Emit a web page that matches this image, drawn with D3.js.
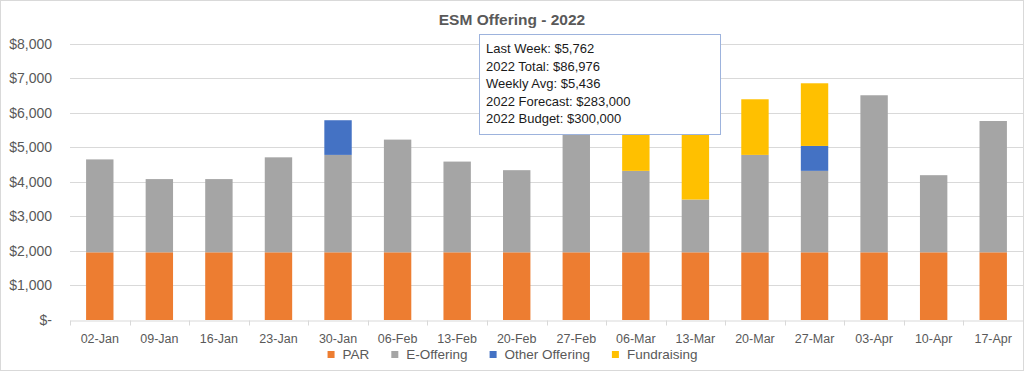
<!DOCTYPE html>
<html lang="en">
<head>
<meta charset="UTF-8">
<title>ESM Offering - 2022</title>
<script src="https://d3js.org/d3.v7.min.js"></script>
<style>
    body { margin: 0; background: #fff; }
    text { font-family: "Liberation Sans", Arial, sans-serif; }
</style>
</head>
<body>
<div id="chart"></div>
<script>
// weekly values
var weeks = ["02-Jan", "09-Jan", "16-Jan", "23-Jan", "30-Jan", "06-Feb", "13-Feb", "20-Feb",
             "27-Feb", "06-Mar", "13-Mar", "20-Mar", "27-Mar", "03-Apr", "10-Apr", "17-Apr"];
var par         = [1960, 1960, 1960, 1960, 1960, 1960, 1960, 1960, 1960, 1960, 1960, 1960, 1960, 1960, 1960, 1960];
var eOffering   = [2690, 2120, 2120, 2750, 2820, 3263, 2627, 2378, 4340, 2358, 1528, 2820, 2358, 4547, 2233, 3802];
var otherOffer  = [0, 0, 0, 0, 1004, 0, 0, 0, 0, 0, 0, 0, 722, 0, 0, 0];
var fundraising = [0, 0, 0, 0, 0, 0, 0, 0, 0, 2282, 3425, 1611, 1814, 0, 0, 0];
var seriesNames = ["PAR", "E-Offering", "Other Offering", "Fundraising"];
var seriesColors = ["#ED7D31", "#A5A5A5", "#4472C4", "#FFC000"];
var yTicks = [0, 1000, 2000, 3000, 4000, 5000, 6000, 7000, 8000];
var summaryLines = ["Last Week: $5,762", "2022 Total: $86,976", "Weekly Avg: $5,436",
                    "2022 Forecast: $283,000", "2022 Budget: $300,000"];

var width = 1024, height = 372;
var plotLeft = 70, plotRight = 1023, plotTop = 43.7, plotBottom = 320;

var svg = d3.select("#chart").append("svg")
    .attr("width", width)
    .attr("height", height);

// outer chart frame
svg.append("rect")
    .attr("x", 0.5).attr("y", 0.5)
    .attr("width", width - 1).attr("height", height - 2)
    .attr("fill", "#fff").attr("stroke", "#d9d9d9");

var rows = weeks.map(function(w, i) {
    return { week: w, "PAR": par[i], "E-Offering": eOffering[i],
             "Other Offering": otherOffer[i], "Fundraising": fundraising[i] };
});

var x = d3.scaleBand().domain(weeks).range([plotLeft, plotRight]).paddingInner(0.54).paddingOuter(0.27);
var y = d3.scaleLinear().domain([0, 8000]).range([plotBottom, plotTop]);
var color = d3.scaleOrdinal().domain(seriesNames).range(seriesColors);

// gridlines
svg.append("g")
    .selectAll("line")
    .data(yTicks.slice(1))
    .enter().append("line")
    .attr("x1", plotLeft).attr("x2", plotRight)
    .attr("y1", function(d) { return Math.round(y(d)) + 0.5; })
    .attr("y2", function(d) { return Math.round(y(d)) + 0.5; })
    .attr("stroke", "#d9d9d9");

// y axis labels (accounting style)
var fmt = d3.format(",");
svg.append("g")
    .selectAll("text")
    .data(yTicks)
    .enter().append("text")
    .attr("x", 52)
    .attr("y", function(d) { return y(d); })
    .attr("dy", "0.35em")
    .attr("text-anchor", "end")
    .attr("font-size", 14)
    .attr("fill", "#595959")
    .text(function(d) { return d === 0 ? "$-" : "$" + fmt(d); });

// stacked bars
var stack = d3.stack().keys(seriesNames);
svg.append("g")
    .selectAll("g")
    .data(stack(rows))
    .enter().append("g")
    .attr("fill", function(d) { return color(d.key); })
    .selectAll("rect")
    .data(function(d) { return d; })
    .enter().append("rect")
    .attr("x", function(d) { return x(d.data.week); })
    .attr("y", function(d) { return y(d[1]); })
    .attr("width", x.bandwidth())
    .attr("height", function(d) { return y(d[0]) - y(d[1]); });

// category axis
var xAxis = svg.append("g")
    .attr("transform", "translate(0," + (Math.round(plotBottom) + 0.5) + ")")
    .call(d3.axisBottom(x).tickSize(0).tickPadding(14));
xAxis.select(".domain").attr("stroke", "#d9d9d9");
xAxis.selectAll("text")
    .attr("font-family", "Liberation Sans, Arial, sans-serif")
    .attr("font-size", 12.5)
    .attr("fill", "#595959");
// boundary tick marks between categories
xAxis.selectAll(".sep")
    .data(weeks.concat(["end"]))
    .enter().append("line")
    .attr("class", "sep")
    .attr("x1", function(d, i) { return Math.round(plotLeft + i * x.step()) + 0.5; })
    .attr("x2", function(d, i) { return Math.round(plotLeft + i * x.step()) + 0.5; })
    .attr("y1", 0).attr("y2", 5)
    .attr("stroke", "#d9d9d9");

// title
svg.append("text")
    .attr("x", 512).attr("y", 19.5)
    .attr("dy", "0.35em")
    .attr("text-anchor", "middle")
    .attr("font-size", 15.5)
    .attr("font-weight", "bold")
    .attr("fill", "#595959")
    .text("ESM Offering - 2022");

// legend
var legend = svg.append("g");
var lx = 0;
seriesNames.forEach(function(name) {
    var item = legend.append("g").attr("transform", "translate(" + lx + ",0)");
    item.append("rect")
        .attr("x", 0).attr("y", 351).attr("width", 7).attr("height", 7)
        .attr("fill", color(name));
    var t = item.append("text")
        .attr("x", 15).attr("y", 354.5)
        .attr("dy", "0.35em")
        .attr("font-size", 13.5)
        .attr("fill", "#595959")
        .text(name);
    lx += 15 + t.node().getComputedTextLength() + 22;
});
var legendWidth = lx - 22;
legend.attr("transform", "translate(" + (512.5 - legendWidth / 2) + ",0)");

// summary box over the chart
var box = svg.append("g").attr("transform", "translate(479.5,34.5)");
box.append("rect")
    .attr("width", 241).attr("height", 100)
    .attr("fill", "#fff")
    .attr("stroke", "#9db3dd");
box.selectAll("text")
    .data(summaryLines)
    .enter().append("text")
    .attr("x", 6.5)
    .attr("y", function(d, i) { return 14 + i * 17.6; })
    .attr("dy", "0.35em")
    .attr("font-size", 13)
    .attr("fill", "#1a1a1a")
    .text(function(d) { return d; });
</script>
</body>
</html>
